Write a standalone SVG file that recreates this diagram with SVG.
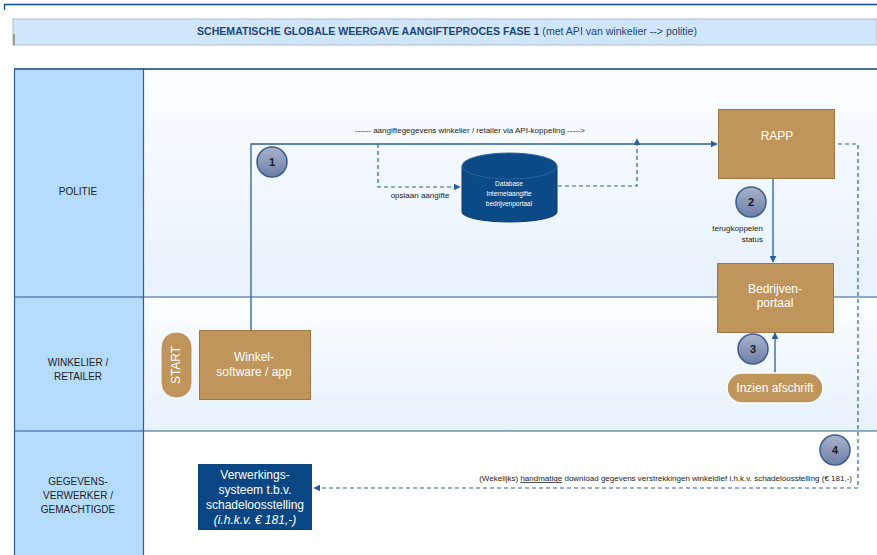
<svg xmlns="http://www.w3.org/2000/svg" width="877" height="555" viewBox="0 0 877 555">
<defs>
<style>
.lbl{font-family:"Liberation Sans",Arial,sans-serif;font-size:10px;fill:#222;text-anchor:middle}
.wt{font-family:"Liberation Sans",Arial,sans-serif;font-size:12px;fill:#fff;text-anchor:middle}
.sm{font-family:"Liberation Sans",Arial,sans-serif;font-size:8px;fill:#222}
.num{font-family:"Liberation Sans",Arial,sans-serif;font-size:11px;font-weight:bold;fill:#1a1a1a;text-anchor:middle}
.box{fill:#bf955b;stroke:#9d7845;stroke-width:1}
.circ{fill:url(#cg);stroke:#3d5c8e;stroke-width:1.5}
.lane{stroke:#2e5d92;stroke-width:1.2;fill:none}
.solid{fill:none;stroke:#2b5f9e;stroke-width:1.3}
.dash{fill:none;stroke:#2b5f9e;stroke-width:1.2;stroke-dasharray:4 3}
</style>
<linearGradient id="cg" x1="0" y1="0" x2="0" y2="1">
<stop offset="0" stop-color="#a9b4cc"/>
<stop offset="1" stop-color="#6d7ea6"/>
</linearGradient>
<linearGradient id="lg" x1="0" y1="0" x2="0" y2="1">
<stop offset="0" stop-color="#fbfdff"/>
<stop offset="1" stop-color="#e7f2fd"/>
</linearGradient>
<marker id="ah" viewBox="0 0 10 10" refX="9" refY="5" markerWidth="7" markerHeight="7" orient="auto" markerUnits="userSpaceOnUse">
<path d="M0,0 L10,5 L0,10 z" fill="#2b5f9e"/>
</marker>
</defs>
<rect width="877" height="555" fill="#fff"/>
<path d="M4.5,10 V4.5 H877" fill="none" stroke="#0b4d9a" stroke-width="1.3"/>
<g id="header">
<rect x="13" y="19" width="864" height="26" fill="#d0e6fd" stroke="#b8c4cf" stroke-width="1.2"/>
<rect x="13" y="34" width="2" height="11" fill="#a59a8a"/>
<text x="447" y="35" font-family="Liberation Sans,Arial,sans-serif" font-size="10" fill="#1f4576" text-anchor="middle" textLength="500" lengthAdjust="spacingAndGlyphs"><tspan font-weight="bold">SCHEMATISCHE GLOBALE  WEERGAVE  AANGIFTEPROCES  FASE  1 </tspan><tspan>(met API van winkelier --&gt; politie)</tspan></text>
</g>
<g id="lanes">
<rect x="143" y="69" width="734" height="228" fill="url(#lg)"/>
<rect x="143" y="297" width="734" height="134" fill="url(#lg)"/>
<rect x="143" y="431" width="734" height="124" fill="#fff"/>
<rect x="14" y="69" width="129" height="486" fill="#b5dcfc"/>
<line x1="14" y1="69" x2="877" y2="69" stroke="#4a6f9a" stroke-width="2"/>
<line x1="14" y1="297" x2="877" y2="297" class="lane"/>
<line x1="14" y1="431" x2="877" y2="431" class="lane"/>
<line x1="14.5" y1="69" x2="14.5" y2="555" class="lane"/>
<line x1="143.5" y1="69" x2="143.5" y2="555" class="lane"/>
<text class="lbl" x="78" y="195">POLITIE</text>
<text class="lbl" x="78" y="366">WINKELIER /</text>
<text class="lbl" x="78" y="380">RETAILER</text>
<text class="lbl" x="78" y="485">GEGEVENS-</text>
<text class="lbl" x="78" y="499">VERWERKER  /</text>
<text class="lbl" x="78" y="513">GEMACHTIGDE</text>
</g>
<g id="connectors">
<path class="solid" d="M251,330 V144 H717" marker-end="url(#ah)"/>
<path class="dash" d="M378,144 V187 H460" marker-end="url(#ah)"/>
<path class="dash" d="M558,186 H637 V139" marker-end="url(#ah)"/>
<path class="solid" d="M773,178 V262" marker-end="url(#ah)"/>
<path class="solid" d="M775,373 V333" marker-end="url(#ah)"/>
<path class="dash" d="M838,144 H858 V488 H314" marker-end="url(#ah)"/>
<text class="sm" x="470" y="133" text-anchor="middle">------  aangiftegegevens  winkelier / retailer  via  API-koppeling  -----&gt;</text>
<text class="sm" x="420" y="198" text-anchor="middle">opslaan aangifte</text>
<text class="sm" x="763" y="231" text-anchor="end">terugkoppelen</text>
<text class="sm" x="763" y="242" text-anchor="end">status</text>
<text class="sm" x="852" y="481" text-anchor="end">(Wekelijks) <tspan text-decoration="underline">handmatige</tspan>  download  gegevens  verstrekkingen  winkeldief  i.h.k.v.  schadeloosstelling  (€ 181,-)</text>
</g>
<g id="n1"><circle class="circ" cx="272" cy="162" r="15"/><text class="num" x="272" y="166">1</text></g>
<g id="n2"><circle class="circ" cx="751" cy="202" r="15"/><text class="num" x="751" y="206">2</text></g>
<g id="n3"><circle class="circ" cx="753" cy="349" r="15"/><text class="num" x="753" y="353">3</text></g>
<g id="n4"><circle class="circ" cx="835" cy="450" r="15"/><text class="num" x="835" y="454">4</text></g>
<g id="rapp"><rect class="box" x="718.5" y="109.5" width="116" height="69"/><text class="wt" x="777" y="140">RAPP</text></g>
<g id="bedrijvenportaal"><rect class="box" x="717.5" y="263.5" width="116" height="69"/><text class="wt" x="775" y="293">Bedrijven-</text><text class="wt" x="775" y="307">portaal</text></g>
<g id="inzien"><rect x="727" y="373" width="96" height="30" rx="15" fill="#bf955b" stroke="#fff" stroke-width="1.5"/><text class="wt" x="775" y="392" font-size="11">Inzien afschrift</text></g>
<g id="database">
<path d="M462,166 V212 A47.5,10 0 0 0 557,212 V166" fill="#0b4a86" stroke="#083a6c" stroke-width="1"/>
<ellipse cx="509.5" cy="166" rx="47.5" ry="13" fill="#0b4a86" stroke="#2a63a0" stroke-width="1"/>
<text x="509" y="186" font-family="Liberation Sans,Arial,sans-serif" font-size="6.5" fill="#fff" text-anchor="middle">Database</text>
<text x="509" y="196" font-family="Liberation Sans,Arial,sans-serif" font-size="6.5" fill="#fff" text-anchor="middle">Internetaangifte</text>
<text x="509" y="206" font-family="Liberation Sans,Arial,sans-serif" font-size="6.5" fill="#fff" text-anchor="middle">bedrijvenportaal</text>
</g>
<g id="start"><rect x="161" y="332" width="31" height="66" rx="15" fill="#bf955b" stroke="#fff" stroke-width="1"/><text class="wt" x="0" y="0" font-size="11" transform="translate(180,365) rotate(-90)">START</text></g>
<g id="winkel"><rect class="box" x="199.5" y="330.5" width="111" height="69"/><text class="wt" x="254" y="361">Winkel-</text><text class="wt" x="254" y="376">software / app</text></g>
<g id="verwerking">
<rect x="198" y="464" width="114" height="66" fill="#0a4683"/>
<text class="wt" x="255" y="479">Verwerkings-</text>
<text class="wt" x="255" y="494">systeem t.b.v.</text>
<text class="wt" x="255" y="509">schadeloosstelling</text>
<text class="wt" x="255" y="524" font-style="italic">(i.h.k.v. € 181,-)</text>
</g>
</svg>
